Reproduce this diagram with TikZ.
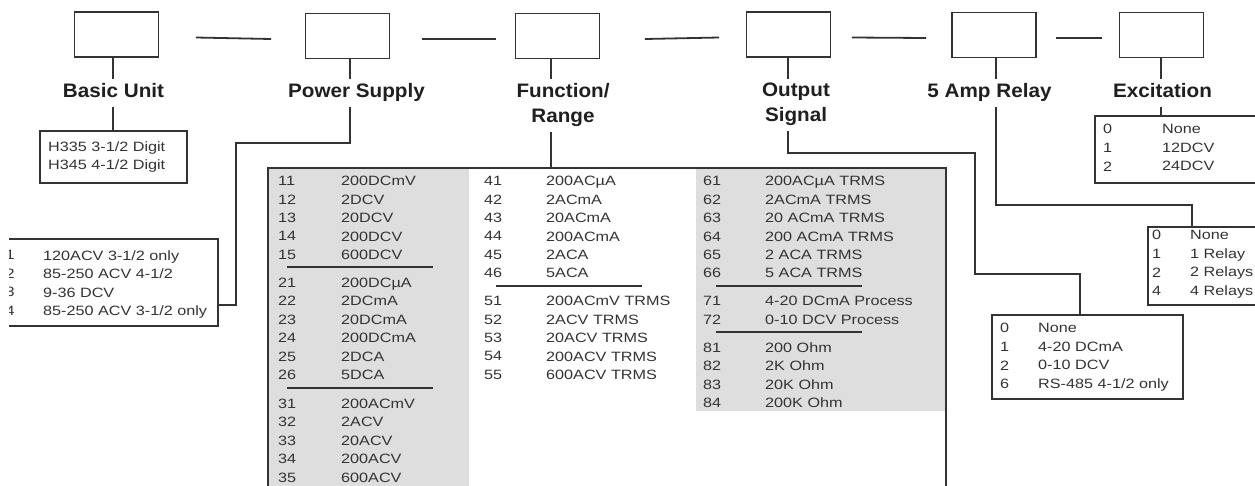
\documentclass[tikz,border=0pt]{standalone}
\usepackage{fontspec}
\setmainfont{Liberation Sans}[FakeStretch=1.2]
\newfontfamily\headfont{Liberation Sans}[FakeStretch=1.06]
\usetikzlibrary{positioning}

\begin{document}
\begin{tikzpicture}[
    x=1pt, y=-1pt,
    codebox/.style={
        rectangle,
        draw=black!80,
        line width=1.8pt,
        minimum width=84pt,
        minimum height=45pt,
        inner sep=0pt
    },
    heading/.style={
        anchor=north,
        align=center,
        inner sep=4pt,
        text=black!88,
        font=\headfont\bfseries\fontsize{19.5}{25}\selectfont,
        execute at end node={\rule[-5pt]{0pt}{5pt}}
    },
    optbox/.style={rectangle, draw=black!80, line width=1.8pt, anchor=north west, inner sep=0pt},
    list/.style={anchor=north west, inner sep=0pt, align=left, text=black!80,
        font=\fontsize{13.5}{18.6}\selectfont},
    tbl/.style={list, font=\fontsize{13.5}{18.4}\selectfont},
    wire/.style={draw=black!80, line width=1.8pt},
    sep/.style={draw=black!80, line width=2pt}
]

\useasboundingbox (0,0) rectangle (1255,485);
\clip (9,0) rectangle (1255,485);

% code boxes
\node[codebox] (b1) at (116.5,34.5) {};
\node[codebox] (b2) at (347.5,36) {};
\node[codebox] (b3) at (557.5,36) {};
\node[codebox] (b4) at (788.5,34.5) {};
\node[codebox] (b5) at (994,35) {};
\node[codebox] (b6) at (1161.5,35) {};

\draw[wire] ([xshift=36.5pt,yshift=-3pt]b1.east) -- ([xshift=-33.5pt,yshift=-3pt]b2.west);
\draw[wire] ([xshift=31.5pt,yshift=-3pt]b2.east) -- ([xshift=-18.5pt,yshift=-3pt]b3.west);
\draw[wire] ([xshift=44.5pt,yshift=-3pt]b3.east) -- ([xshift=-26.5pt,yshift=-3pt]b4.west);
\draw[wire] ([xshift=20.5pt,yshift=-3pt]b4.east) -- ([xshift=-25pt,yshift=-3pt]b5.west);
\draw[wire] ([xshift=19pt,yshift=-3pt]b5.east) -- ([xshift=-16.5pt,yshift=-3pt]b6.west);

% headings
\node[heading] (lbl1) at (113.5,79) {Basic Unit};
\node[heading] (lbl2) at (356.5,79) {Power Supply};
\node[heading] (lbl3) at (563,79) {Function/\\Range};
\node[heading] (lbl4) at (796,79) {Output\\Signal};
\node[heading] (lbl5) at (989.5,79) {5 Amp Relay};
\node[heading] (lbl6) at (1162.5,79) {Excitation};

% option boxes
\node[optbox, minimum width=147pt, minimum height=52pt] (h335) at (39,130) {};
\node[optbox, minimum width=237pt, minimum height=87pt] (psu) at (-20,238) {};
\node[optbox, minimum width=180pt, minimum height=67pt] (exc) at (1094,115) {};
\node[optbox, minimum width=130pt, minimum height=78pt] (relay) at (1147,226) {};
\node[optbox, minimum width=191pt, minimum height=84pt] (outbox) at (991,314) {};

\node[list] (h335t) at (48,141.1) {H335 3-1/2 Digit\\H345 4-1/2 Digit};
\node[list] (psun) at (5.5,250.2) {1\\2\\3\\4};
\node[list] (psuv) at (43,250.2) {120ACV 3-1/2 only\\85-250 ACV 4-1/2\\9-36 DCV\\85-250 ACV 3-1/2 only};
\node[list] (excn) at (1103,124.2) {0\\1\\2};
\node[list] (excv) at (1162,124.2) {None\\12DCV\\24DCV};
\node[list] (relayn) at (1152,230.2) {0\\1\\2\\4};
\node[list] (relayv) at (1190,230.2) {None\\1 Relay\\2 Relays\\4 Relays};
\node[list] (outn) at (1000,323.2) {0\\1\\2\\6};
\node[list] (outv) at (1038,323.2) {None\\4-20 DCmA\\0-10 DCV\\RS-485 4-1/2 only};

% function / range table
\fill[black!13] (267,167) rectangle (469,500);
\fill[black!13] (696,167) rectangle (945,411);
\node[optbox, minimum width=678pt, minimum height=340pt] (frbox) at (267,167) {};

\node[tbl] (c1n1) at (278,176.2) {11\\12\\13\\14\\15};
\node[tbl] (c1v1) at (341,176.2) {200DCmV\\2DCV\\20DCV\\200DCV\\600DCV};
\draw[sep] (287,266.6) -- (433,266.6);
\node[tbl] (c1n2) at (278,277.8) {21\\22\\23\\24\\25\\26};
\node[tbl] (c1v2) at (341,277.8) {200DCµA\\2DCmA\\20DCmA\\200DCmA\\2DCA\\5DCA};
\draw[sep] (287,387.6) -- (433,387.6);
\node[tbl] (c1n3) at (278,398.8) {31\\32\\33\\34\\35};
\node[tbl] (c1v3) at (341,398.8) {200ACmV\\2ACV\\20ACV\\200ACV\\600ACV};

\node[tbl] (c2n1) at (484,176.2) {41\\42\\43\\44\\45\\46};
\node[tbl] (c2v1) at (546,176.2) {200ACµA\\2ACmA\\20ACmA\\200ACmA\\2ACA\\5ACA};
\draw[sep] (496,285.5) -- (642,285.5);
\node[tbl] (c2n2) at (484,296.2) {51\\52\\53\\54\\55};
\node[tbl] (c2v2) at (546,296.2) {200ACmV TRMS\\2ACV TRMS\\20ACV TRMS\\200ACV TRMS\\600ACV TRMS};

\node[tbl] (c3n1) at (703,176.2) {61\\62\\63\\64\\65\\66};
\node[tbl] (c3v1) at (765,176.2) {200ACµA TRMS\\2ACmA TRMS\\20 ACmA TRMS\\200 ACmA TRMS\\2 ACA TRMS\\5 ACA TRMS};
\draw[sep] (716,285.5) -- (862,285.5);
\node[tbl] (c3n2) at (703,296.2) {71\\72};
\node[tbl] (c3v2) at (765,296.2) {4-20 DCmA Process\\0-10 DCV Process};
\draw[sep] (716,331.6) -- (862,331.6);
\node[tbl] (c3n3) at (703,342.6) {81\\82\\83\\84};
\node[tbl] (c3v3) at (765,342.6) {200 Ohm\\2K Ohm\\20K Ohm\\200K Ohm};

% connectors
\draw[wire] (b1.south -| 113,0) -- (lbl1.north -| 113,0);
\draw[wire] (lbl1.south -| 113,0) -- (h335.north -| 113,0);
\draw[wire] (b2.south -| 350,0) -- (lbl2.north -| 350,0);
\draw[wire] (lbl2.south -| 350,0) |- (236,143) |- (psu.east |- 0,305);
\draw[wire] (b3.south -| 551,0) -- (lbl3.north -| 551,0);
\draw[wire] (lbl3.south -| 551,0) -- (frbox.north -| 551,0);
\draw[wire] (b4.south -| 788,0) -- (lbl4.north -| 788,0);
\draw[wire] (lbl4.south -| 788,0) |- (975,153) |- (1080,274) -- (outbox.north -| 1080,0);
\draw[wire] (b5.south -| 996,0) -- (lbl5.north -| 996,0);
\draw[wire] (lbl5.south -| 996,0) |- (1192,205) -- (relay.north -| 1192,0);
\draw[wire] (b6.south -| 1161,0) -- (lbl6.north -| 1161,0);
\draw[wire] (lbl6.south -| 1161,0) -- (exc.north -| 1161,0);

\end{tikzpicture}
\end{document}
